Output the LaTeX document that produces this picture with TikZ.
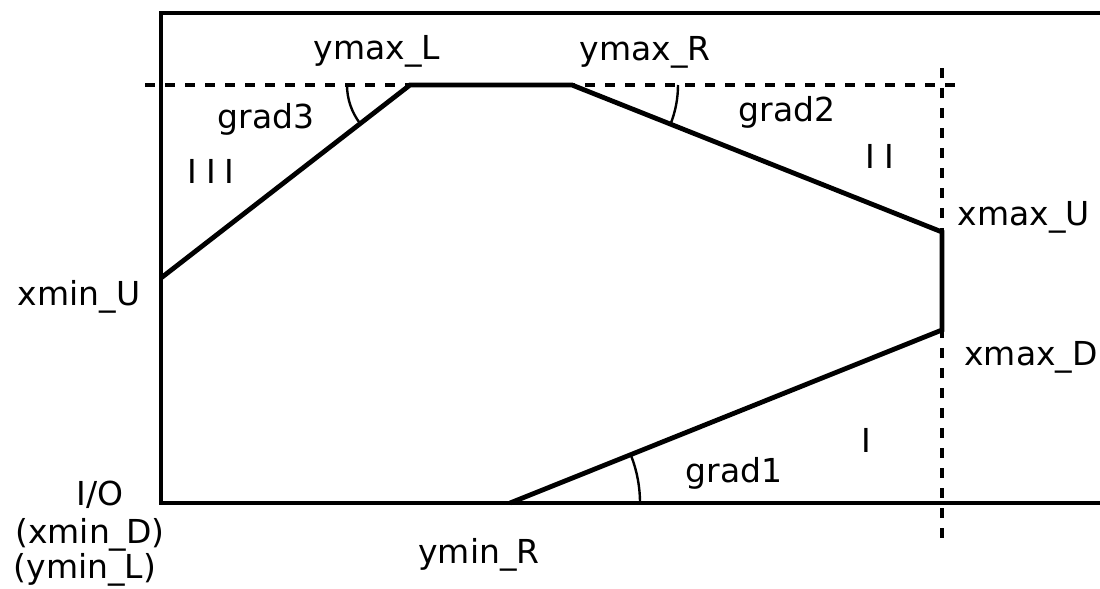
\documentclass[tikz,border=0pt]{standalone}
\usepackage{fontspec}
\setmainfont{DejaVu Sans}
\begin{document}
\begin{tikzpicture}[x=0.5pt,y=-0.5pt,
  frame/.style={line width=2.1pt},
  outline/.style={line width=2.4pt, line join=miter},
  guide/.style={line width=2.2pt, dash pattern=on 5pt off 5pt},
  anglearc/.style={line width=1.2pt},
  lbl/.style={inner sep=0pt, anchor=base, font=\fontsize{16.5}{19}\selectfont}]
\useasboundingbox (0,0) rectangle (1100,589);
% frame
\coordinate (TR) at (1100,13);
\coordinate (TL) at (161,13);
\coordinate (BL) at (161,503);
\coordinate (BR) at (1100,503);
\draw[frame] (TR) -- (TL) -- (BL) -- (BR);
% guides
\coordinate (HGa) at (145,85);
\coordinate (HGb) at (960,85);
\coordinate (VGa) at (942,68);
\coordinate (VGb) at (942,540);
\draw[guide] (HGa) -- (HGb);
\draw[guide] (VGa) -- (VGb);
% outline
\coordinate (XminU) at (161,278);
\coordinate (YmaxL) at (410,85);
\coordinate (YmaxR) at (572,85);
\coordinate (XmaxU) at (942,232);
\coordinate (XmaxD) at (942,330);
\coordinate (YminR) at (510,503);
\draw[outline] (XminU) -- (YmaxL) -- (YmaxR) -- (XmaxU) -- (XmaxD) -- (YminR);
% angle arcs
\draw[anglearc] ([shift={(180:31.5pt)}]YmaxL) arc[start angle=180, end angle=217.8, radius=31.5pt];
\draw[anglearc] ([shift={(0:53pt)}]YmaxR) arc[start angle=0, end angle=-21.7, radius=53pt];
\draw[anglearc] ([shift={(0:65pt)}]YminR) arc[start angle=0, end angle=21.8, radius=65pt];
% labels
\node[lbl] (lymaxL) at (377,60) {ymax\_L};
\node[lbl] (lymaxR) at (645,61) {ymax\_R};
\node[lbl] (lgrad3) at (266,128) {grad3};
\node[lbl] (lIII) at (211,183) {I\kern4.5pt I\kern4.5pt I};
\node[lbl] (lgrad2) at (787,121) {grad2};
\node[lbl] (lII) at (880,168) {I\kern4.5pt I};
\node[lbl] (lxmaxU) at (1024,225) {xmax\_U};
\node[lbl] (lxmaxD) at (1031,365) {xmax\_D};
\node[lbl] (lxminU) at (79,305) {xmin\_U};
\node[lbl] (lIO) at (100,505) {I/O};
\node[lbl] (lxminD) at (90,543) {(xmin\_D)};
\node[lbl] (lyminL) at (85,578) {(ymin\_L)};
\node[lbl] (lyminR) at (479,563) {ymin\_R};
\node[lbl] (lgrad1) at (734,482) {grad1};
\node[lbl] (lI) at (866,452) {I};
\end{tikzpicture}
\end{document}
